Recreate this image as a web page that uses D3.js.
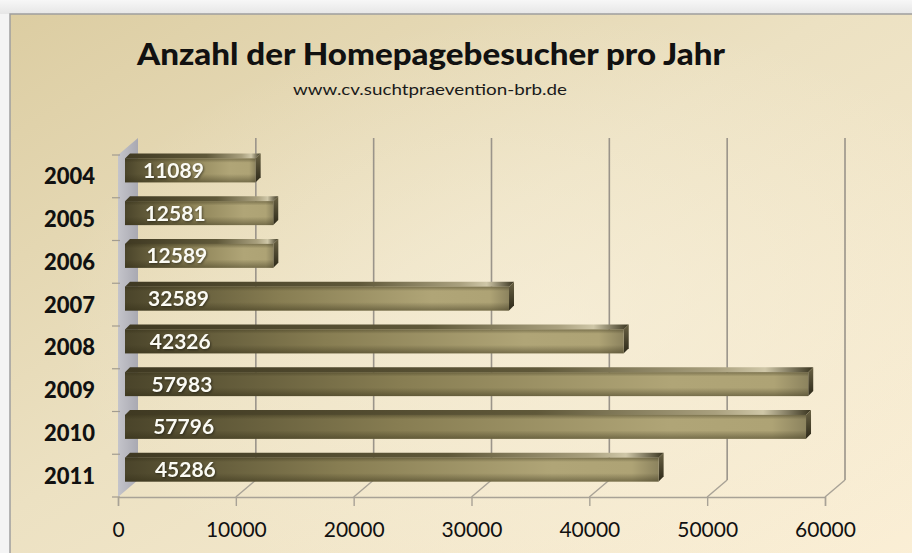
<!DOCTYPE html>
<meta charset="utf-8">
<script src="https://d3js.org/d3.v7.min.js"></script>
<style>
  html, body { margin: 0; padding: 0; background: #f4f4f4; }
  svg { display: block; }
</style>
<div id="chart"></div>
<script>

// data
var years = ["2004", "2005", "2006", "2007", "2008", "2009", "2010", "2011"];
var visitors = [11089, 12581, 12589, 32589, 42326, 57983, 57796, 45286];
var xTicks = [0, 10000, 20000, 30000, 40000, 50000, 60000];
var title = "Anzahl der Homepagebesucher pro Jahr";
var subtitle = "www.cv.suchtpraevention-brb.de";

var W = 912, H = 553;
// front plane of the 3d plot, and how far the back wall is shifted
var plot = {left: 118, right: 825, top: 155, bottom: 497};
var depth = {dx: 20, dy: -17};
var barShift = {dx: 7, dy: -6}, barDepth = {dx: 5, dy: -5};

var svg = d3.select("#chart").append("svg")
    .attr("width", W)
    .attr("height", H);

var defs = svg.append("defs");

// background gradients
var bg = defs.append("linearGradient").attr("id", "bg")
    .attr("x1", 0).attr("y1", 0).attr("x2", 1).attr("y2", 1);
bg.append("stop").attr("offset", 0).attr("stop-color", "#dccda2");
bg.append("stop").attr("offset", 0.45).attr("stop-color", "#ece1c2");
bg.append("stop").attr("offset", 1).attr("stop-color", "#fbefd6");

var glow = defs.append("radialGradient").attr("id", "glow")
    .attr("cx", 0.6).attr("cy", 0.55).attr("r", 0.55);
glow.append("stop").attr("offset", 0).attr("stop-color", "#faf3e0").attr("stop-opacity", 0.55);
glow.append("stop").attr("offset", 1).attr("stop-color", "#faf3e0").attr("stop-opacity", 0);

var topStrip = defs.append("linearGradient").attr("id", "topStrip")
    .attr("x1", 0).attr("y1", 0).attr("x2", 0).attr("y2", 1);
topStrip.append("stop").attr("offset", 0).attr("stop-color", "#f7f7f7");
topStrip.append("stop").attr("offset", 1).attr("stop-color", "#e6e6e6");

// wall
var wallG = defs.append("linearGradient").attr("id", "wall")
    .attr("x1", 0).attr("y1", 0).attr("x2", 1).attr("y2", 0);
wallG.append("stop").attr("offset", 0).attr("stop-color", "#c4c4ca");
wallG.append("stop").attr("offset", 1).attr("stop-color", "#a9a9b2");

// bar faces
function grad(id, stops, vertical) {
  var g = defs.append("linearGradient").attr("id", id)
      .attr("x1", 0).attr("y1", 0)
      .attr("x2", vertical ? 0 : 1).attr("y2", vertical ? 1 : 0);
  stops.forEach(function(s) {
    g.append("stop").attr("offset", s[0]).attr("stop-color", s[1])
      .attr("stop-opacity", s[2] === undefined ? 1 : s[2]);
  });
}
grad("front", [[0, "#4a442a"], [0.1, "#5b5435"], [0.4, "#877d52"], [0.8, "#b0a577"], [0.95, "#aea375"], [1, "#8c835e"]]);
grad("shade", [[0, "#2f2a14", 0.4], [0.18, "#2f2a14", 0], [0.65, "#2f2a14", 0], [1, "#2f2a14", 0.45]], true);
grad("topf", [[0, "#3f3922"], [0.6, "#5f5839"], [0.86, "#a9a07e"], [0.93, "#cfc7a8"], [1, "#3a3520"]]);
grad("cap", [[0, "#6a6244"], [1, "#2d2919"]], true);

// outer frame and chart area
svg.append("rect").attr("width", W).attr("height", 14).attr("fill", "url(#topStrip)");
svg.append("rect")
    .attr("x", 10).attr("y", 14)
    .attr("width", W).attr("height", H)
    .attr("fill", "url(#bg)")
    .attr("stroke", "#9e9e9e")
    .attr("stroke-width", 1.5);
svg.append("rect")
    .attr("x", 11).attr("y", 15)
    .attr("width", W).attr("height", H)
    .attr("fill", "url(#glow)");

// titles
svg.append("text")
    .attr("x", 431).attr("y", 65)
    .attr("text-anchor", "middle")
    .attr("textLength", 588)
    .attr("lengthAdjust", "spacingAndGlyphs")
    .style("font", "900 31px Lato")
    .style("fill", "#111")
    .text(title);

svg.append("text")
    .attr("x", 430).attr("y", 95)
    .attr("text-anchor", "middle")
    .attr("textLength", 274)
    .attr("lengthAdjust", "spacingAndGlyphs")
    .style("font", "16px Lato")
    .style("fill", "#1a1a1a")
    .text(subtitle);

// scales
var x = d3.scaleLinear()
    .domain([0, 60000])
    .range([plot.left, plot.right]);

var y = d3.scaleBand()
    .domain(years)
    .range([plot.top, plot.bottom])
    .paddingInner(0.44)
    .paddingOuter(0.22);

var step = y.step();
var g = svg.append("g");

// left wall
g.append("path")
    .attr("d", "M" + x(0) + "," + plot.top +
               "L" + (x(0) + depth.dx) + "," + (plot.top + depth.dy) +
               "L" + (x(0) + depth.dx) + "," + (plot.bottom + depth.dy) +
               "L" + x(0) + "," + plot.bottom + "Z")
    .attr("fill", "url(#wall)");

// wall tick marks at category borders
g.selectAll(".wtick")
  .data(d3.range(years.length + 1))
  .enter().append("line")
    .attr("x1", x(0) - 6).attr("x2", x(0) + 2)
    .attr("y1", function(i) { return plot.top + i * step; })
    .attr("y2", function(i) { return plot.top + i * step; })
    .attr("stroke", "#a29c90")
    .attr("stroke-width", 1.2);

// back wall gridlines and floor diagonals
var grid = xTicks.slice(1);
g.selectAll(".grid")
  .data(grid)
  .enter().append("line")
    .attr("x1", function(d) { return x(d) + depth.dx; })
    .attr("x2", function(d) { return x(d) + depth.dx; })
    .attr("y1", plot.top + depth.dy)
    .attr("y2", plot.bottom + depth.dy)
    .attr("stroke", "#9a948a")
    .attr("stroke-width", 1.6);

g.selectAll(".floor")
  .data(grid)
  .enter().append("line")
    .attr("x1", function(d) { return x(d); })
    .attr("x2", function(d) { return x(d) + depth.dx; })
    .attr("y1", plot.bottom)
    .attr("y2", plot.bottom + depth.dy)
    .attr("stroke", "#a8a296")
    .attr("stroke-width", 1.4);

// x axis along the front edge of the floor
var axis = g.append("g")
    .attr("transform", "translate(0," + plot.bottom + ")")
    .call(d3.axisBottom(x)
      .tickValues(xTicks)
      .tickFormat(d3.format("d"))
      .tickSize(9)
      .tickPadding(16));
axis.select(".domain").attr("stroke", "#a8a296").attr("stroke-width", 1.4);
axis.selectAll(".tick line").attr("stroke", "#a8a296").attr("stroke-width", 1.4);
axis.selectAll(".tick text")
    .style("font", "21px Lato")
    .style("fill", "#111");

// year labels
g.selectAll(".year")
  .data(years)
  .enter().append("text")
    .attr("x", 95)
    .attr("y", function(d) { return plot.top + years.indexOf(d) * step + step / 2; })
    .attr("dy", "0.36em")
    .attr("text-anchor", "end")
    .style("font", "900 22px Lato")
    .style("fill", "#111")
    .text(function(d) { return d; });

// 3d bars
var bars = g.selectAll(".bar")
  .data(years.map(function(d, i) { return {year: d, value: visitors[i], i: i}; }))
  .enter().append("g");

function bx0() { return x(0) + barShift.dx; }
function bx1(d) { return x(d.value) + barShift.dx; }
function by(d) { return y(d.year) + barShift.dy; }
var bh = y.bandwidth();

bars.append("path")
    .attr("d", function(d) {
      return "M" + bx0() + "," + by(d) +
             "L" + (bx0() + barDepth.dx) + "," + (by(d) + barDepth.dy) +
             "L" + (bx1(d) + barDepth.dx) + "," + (by(d) + barDepth.dy) +
             "L" + bx1(d) + "," + by(d) + "Z";
    })
    .attr("fill", "url(#topf)");

bars.append("path")
    .attr("d", function(d) {
      return "M" + bx1(d) + "," + by(d) +
             "L" + (bx1(d) + barDepth.dx) + "," + (by(d) + barDepth.dy) +
             "L" + (bx1(d) + barDepth.dx) + "," + (by(d) + barDepth.dy + bh) +
             "L" + bx1(d) + "," + (by(d) + bh) + "Z";
    })
    .attr("fill", "url(#cap)");

bars.append("rect")
    .attr("x", bx0)
    .attr("y", by)
    .attr("width", function(d) { return bx1(d) - bx0(); })
    .attr("height", bh)
    .attr("fill", "url(#front)");

bars.append("rect")
    .attr("x", bx0)
    .attr("y", by)
    .attr("width", function(d) { return bx1(d) - bx0(); })
    .attr("height", bh)
    .attr("fill", "url(#shade)");

// value labels inside the bars
bars.append("text")
    .attr("x", function(d) { return bx0() + 18 + d.i * 1.7; })
    .attr("y", function(d) { return by(d) + bh / 2; })
    .attr("dy", "0.36em")
    .style("font", "bold 21px Lato")
    .style("fill", "#fbfbf4")
    .style("filter", "drop-shadow(1px 1px 1px rgba(0,0,0,0.45))")
    .text(function(d) { return d.value; });

</script>
